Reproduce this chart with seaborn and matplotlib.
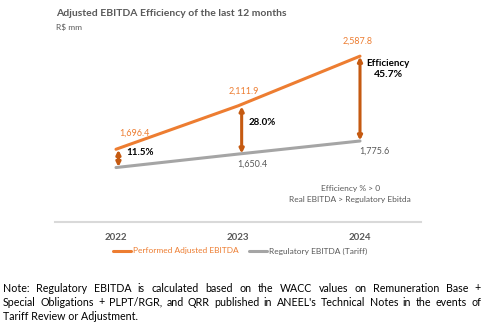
import matplotlib
matplotlib.use("Agg")
import matplotlib.pyplot as plt
import seaborn as sns
import pandas as pd
from matplotlib.lines import Line2D

years = ["2022", "2023", "2024"]
performed = [1696.4, 2111.9, 2587.8]
regulatory = [1521.4, 1650.4, 1775.6]
efficiency = ["11.5%", "28.0%", "45.7%"]
series_names = ["Performed Adjusted EBITDA", "Regulatory EBITDA (Tariff)"]

ORANGE = "#ED7D31"
ARROW = "#C55A11"
GREY = "#A5A5A5"
DARK = "#595959"

sns.set_theme(style="white")
plt.rcParams["font.family"] = ["Lato", "DejaVu Sans"]

fig = plt.figure(figsize=(4.88, 3.35), dpi=100)
ax = fig.add_axes([55/488, 1 - 222/335, (421-55)/488, (222-34)/335])

df = pd.DataFrame({
    "year": years * 2,
    "value": performed + regulatory,
    "series": [series_names[0]] * 3 + [series_names[1]] * 3,
})
sns.lineplot(data=df, x="year", y="value", hue="series",
             palette=[ORANGE, GREY], ax=ax, linewidth=2.2, legend=False, sort=False)

ax.set_xlim(-0.5, 2.5)
ax.set_ylim(1000, 2800)
ax.set_xlabel("")
ax.set_ylabel("")
ax.set_yticks([])
ax.tick_params(axis="x", length=0, pad=8, labelsize=7, labelcolor=DARK)
for lbl in ax.get_xticklabels():
    lbl.set_fontweight("bold")
for s in ["top", "right", "left"]:
    ax.spines[s].set_visible(False)
ax.spines["bottom"].set_color("#D9D9D9")
ax.spines["bottom"].set_linewidth(1.5)

# double arrows
offsets = [0.02, 0.03, 0.0]
for i in range(3):
    ax.annotate("", xy=(i + offsets[i], performed[i] - 5), xytext=(i + offsets[i], regulatory[i] + 5),
                arrowprops=dict(arrowstyle="<|-|>", color=ARROW, lw=2.2,
                                mutation_scale=6, shrinkA=0, shrinkB=0))

# value labels
ax.text(0.15, performed[0] + 150, "1,696.4", color=ORANGE, fontsize=6.5, ha="center", va="center")
ax.text(1.05, performed[1] + 145, "2,111.9", color=ORANGE, fontsize=6.5, ha="center", va="center")
ax.text(1.98, performed[2] + 145, "2,587.8", color=ORANGE, fontsize=6.5, ha="center", va="center")
ax.text(1.12, regulatory[1] - 100, "1,650.4", color=DARK, fontsize=6.5, ha="center", va="center")
ax.text(2.12, regulatory[2] - 100, "1,775.6", color=DARK, fontsize=6.5, ha="center", va="center")

ax.text(0.20, 1670, efficiency[0], color="black", fontsize=7, fontweight="bold", ha="center", va="center")
ax.text(1.20, 1948, efficiency[1], color="black", fontsize=7, fontweight="bold", ha="center", va="center")
ax.text(2.23, 2522, "Efficiency", color="black", fontsize=7, fontweight="bold", ha="center", va="center")
ax.text(2.23, 2410, efficiency[2], color="black", fontsize=7.5, fontweight="bold", ha="center", va="center")

ax.text(1.92, 1325, "Efficiency % > 0", color=DARK, fontsize=6, ha="center", va="center")
ax.text(1.92, 1220, "Real EBITDA > Regulatory Ebitda", color=DARK, fontsize=6, ha="center", va="center")

# title
fig.text(56/488, 1 - 14/335, "Adjusted EBITDA Efficiency of the last 12 months",
         fontsize=7.5, fontweight="bold", color=DARK, va="center")
fig.text(56/488, 1 - 27/335, "R$ mm", fontsize=6, color=DARK, va="center")

# legend
handles = [Line2D([], [], color=ORANGE, lw=2.2), Line2D([], [], color=GREY, lw=2.2)]
fig.legend(handles, series_names, loc="center", bbox_to_anchor=(240/488, 1 - 251/335),
           ncol=2, frameon=False, fontsize=6, labelcolor=[ORANGE, DARK],
           handlelength=2.2, handletextpad=0.2, columnspacing=1.2)

# justified note
note_lines = [
    "Note: Regulatory EBITDA is calculated based on the WACC values on Remuneration Base +",
    "Special Obligations + PLPT/RGR, and QRR published in ANEEL's Technical Notes in the events of",
    "Tariff Review or Adjustment.",
]
note_y = [288, 302, 316]
NOTE_FS = 7.7
x0, x1 = 3, 481
fig.canvas.draw()
renderer = fig.canvas.get_renderer()
for li, (line, yy) in enumerate(zip(note_lines, note_y)):
    words = line.split(" ")
    if li == len(note_lines) - 1:
        fig.text(x0/488, 1 - yy/335, line, fontsize=NOTE_FS, color="black", va="center")
        continue
    tmp = [fig.text(0, 0, w, fontsize=NOTE_FS) for w in words]
    widths = [t.get_window_extent(renderer).width for t in tmp]
    for t in tmp:
        t.remove()
    gap = ((x1 - x0) - sum(widths)) / (len(words) - 1)
    xx = x0
    for w, wd in zip(words, widths):
        fig.text(xx/488, 1 - yy/335, w, fontsize=NOTE_FS, color="black", va="center")
        xx += wd + gap

fig.savefig("out.png", dpi=100)
